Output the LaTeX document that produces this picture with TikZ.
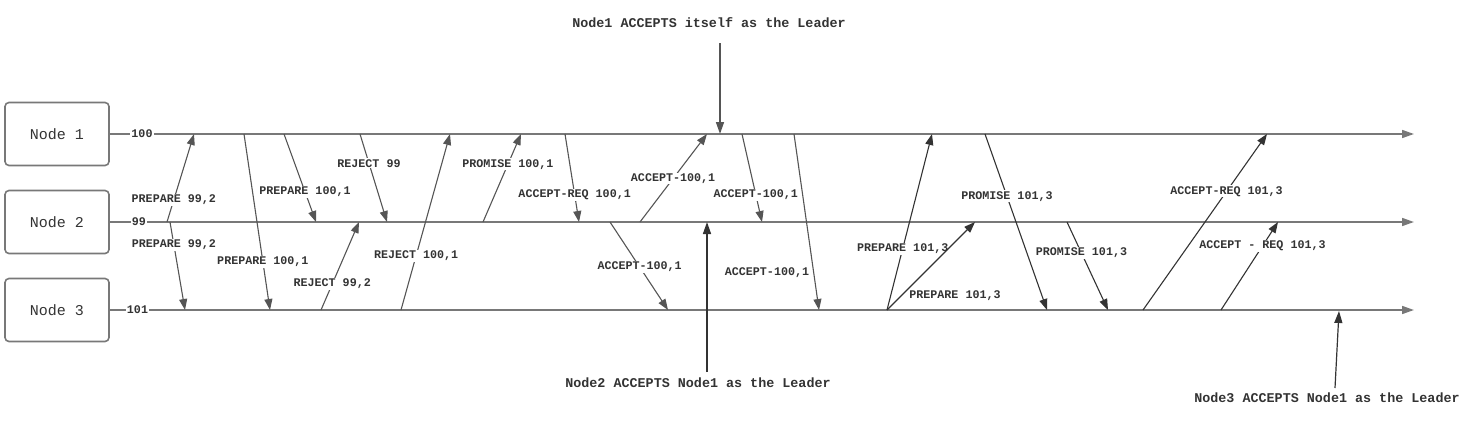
\documentclass[tikz,border=0pt]{standalone}
\usepackage{fontspec}
\setmonofont{Liberation Mono}
\usetikzlibrary{arrows.meta}
\definecolor{tl}{HTML}{787878}
\definecolor{ga}{HTML}{555555}
\definecolor{da}{HTML}{333333}
\definecolor{tx}{HTML}{333333}
\tikzset{
  nodebox/.style={draw=tl, line width=1.6pt, rounded corners=4pt, minimum width=104pt, minimum height=63pt, inner sep=0pt, font=\ttfamily\fontsize{15}{18}\selectfont, text=tx},
  timeline/.style={draw=tl, line width=1.6pt, -{Triangle[length=12pt,width=8pt]}},
  msg/.style={draw=ga, line width=1.1pt, -{Triangle[length=11pt,width=8pt]}},
  msgd/.style={msg, draw=da},
  annarrow/.style={line width=1.5pt, -{Triangle[length=12pt,width=8pt]}},
  lbl/.style={fill=white, inner sep=1pt, font=\ttfamily\bfseries\fontsize{11.7}{13}\selectfont, text=tx},
  ann/.style={inner sep=1pt, font=\ttfamily\bfseries\fontsize{13.4}{15}\selectfont, text=tx},
}
\begin{document}
\begin{tikzpicture}[x=1pt,y=-1pt]
\useasboundingbox (0,0) rectangle (1460,421);
% node boxes
\node[nodebox] (n1) at (57,134) {Node 1};
\node[nodebox] (n2) at (57,222) {Node 2};
\node[nodebox] (n3) at (57,310) {Node 3};
% timelines
\coordinate (e1) at (1414,134);
\coordinate (e2) at (1414,222);
\coordinate (e3) at (1414,310);
\draw[timeline] (n1.east) -- (e1);
\draw[timeline] (n2.east) -- (e2);
\draw[timeline] (n3.east) -- (e3);
\node[lbl] (v1) at (142,134) {100};
\node[lbl] (v2) at (139,222) {99};
\node[lbl] (v3) at (137.5,310) {101};
% message endpoints
\coordinate (m1a) at (167,222); \coordinate (m1b) at (194,134);
\coordinate (m2a) at (170,222); \coordinate (m2b) at (185,310);
\coordinate (m3a) at (244,134); \coordinate (m3b) at (270,310);
\coordinate (m4a) at (284,134); \coordinate (m4b) at (316,222);
\coordinate (m5a) at (360,134); \coordinate (m5b) at (387,222);
\coordinate (m6a) at (321,310); \coordinate (m6b) at (359,222);
\coordinate (m7a) at (401,310); \coordinate (m7b) at (450,134);
\coordinate (m8a) at (483,222); \coordinate (m8b) at (521,134);
\coordinate (m9a) at (565,134); \coordinate (m9b) at (579,222);
\coordinate (m10a) at (640,222); \coordinate (m10b) at (707,134);
\coordinate (m11a) at (742,134); \coordinate (m11b) at (762,222);
\coordinate (m12a) at (610,222); \coordinate (m12b) at (668,310);
\coordinate (m13a) at (794,134); \coordinate (m13b) at (819,310);
\coordinate (m16a) at (887,310); \coordinate (m16b) at (932,134);
\coordinate (m17b) at (975,222);
\coordinate (m18a) at (985,134); \coordinate (m18b) at (1047,310);
\coordinate (m19a) at (1067,222); \coordinate (m19b) at (1108,310);
\coordinate (m20a) at (1143,310); \coordinate (m20b) at (1267,134);
\coordinate (m21a) at (1221,310); \coordinate (m21b) at (1278,222);
% messages
\draw[msg] (m1a) -- node[lbl,pos=0.253] (l1) {PREPARE 99,2} (m1b);
\draw[msg] (m2a) -- node[lbl,pos=0.26] (l2) {PREPARE 99,2} (m2b);
\draw[msg] (m3a) -- node[lbl,pos=0.726] (l3) {PREPARE 100,1} (m3b);
\draw[msg] (m4a) -- node[lbl,pos=0.655] (l4) {PREPARE 100,1} (m4b);
\draw[msg] (m5a) -- node[lbl,pos=0.333] (l5) {REJECT 99} (m5b);
\draw[msg] (m6a) -- node[lbl,pos=0.295] (l6) {REJECT 99,2} (m6b);
\draw[msg] (m7a) -- node[lbl,pos=0.309] (l7) {REJECT 100,1} (m7b);
\draw[msg] (m8a) -- node[lbl,pos=0.655] (l8) {PROMISE 100,1} (m8b);
\draw[msg] (m9a) -- node[lbl,pos=0.69] (l9) {ACCEPT-REQ 100,1} (m9b);
\draw[msg] (m10a) -- node[lbl,pos=0.494] (l10) {ACCEPT-100,1} (m10b);
\draw[msg] (m11a) -- node[lbl,pos=0.69] (l11) {ACCEPT-100,1} (m11b);
\draw[msg] (m12a) -- node[lbl,pos=0.511] (l12) {ACCEPT-100,1} (m12b);
\draw[msg] (m13a) -- (m13b);
\node[lbl] (l13) at (767,273) {ACCEPT-100,1};
\draw[msgd] (m16a) -- node[lbl,pos=0.349] (l16) {PREPARE 101,3} (m16b);
\draw[msgd] (m16a) -- (m17b);
\node[lbl] (l17) at (955,296) {PREPARE 101,3};
\draw[msgd] (m18a) -- node[lbl,pos=0.354] (l18) {PROMISE 101,3} (m18b);
\draw[msgd] (m19a) -- node[lbl,pos=0.352] (l19) {PROMISE 101,3} (m19b);
\draw[msgd] (m20a) -- node[lbl,pos=0.674] (l20) {ACCEPT-REQ 101,3} (m20b);
\draw[msgd] (m21a) -- node[lbl,pos=0.727] (l21) {ACCEPT - REQ 101,3} (m21b);
% annotations
\node[ann] (a1) at (709,23) {Node1 ACCEPTS itself as the Leader};
\node[ann] (a2) at (698,383) {Node2 ACCEPTS Node1 as the Leader};
\node[ann] (a3) at (1327,398) {Node3 ACCEPTS Node1 as the Leader};
\coordinate (a1s) at (720,43); \coordinate (a1e) at (720,134);
\coordinate (a2s) at (707,372); \coordinate (a2e) at (707,222);
\coordinate (a3s) at (1335,388); \coordinate (a3e) at (1339,311);
\draw[annarrow, draw=ga] (a1s) -- (a1e);
\draw[annarrow, draw=da] (a2s) -- (a2e);
\draw[annarrow, draw=da, line width=1.2pt] (a3s) -- (a3e);
\end{tikzpicture}
\end{document}
